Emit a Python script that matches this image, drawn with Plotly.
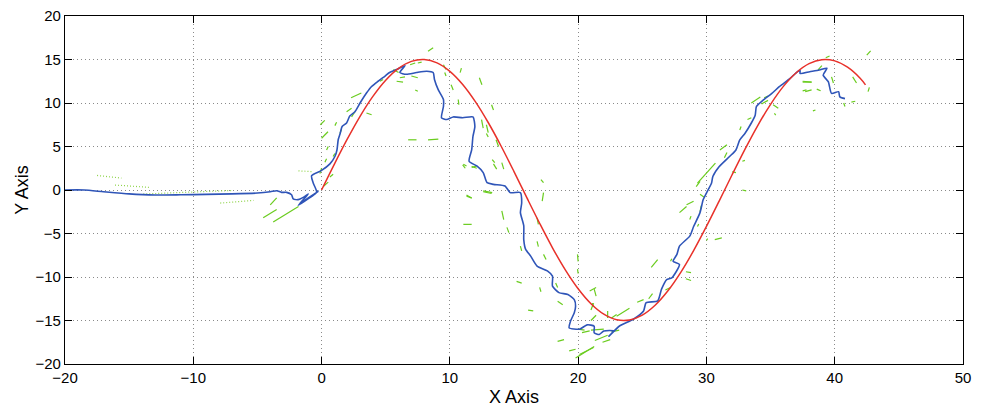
import plotly.graph_objects as go

# Red reference curve
red_x = [0, 1, 2, 3, 4, 5, 6, 7, 8, 9, 10, 11, 12, 13, 14, 15, 16, 17, 18, 19, 20,
         21, 22, 23, 24, 25, 26, 27, 28, 29, 30, 31, 32, 33, 34, 35, 36, 37, 38, 39,
         40, 41, 42, 42.4]
red_y = [0, 2.98, 5.84, 8.47, 10.76, 12.62, 13.98, 14.78, 14.99, 14.61, 13.64, 12.13,
         10.13, 7.73, 5.03, 2.12, -0.88, -3.83, -6.64, -9.18, -11.35, -13.07, -14.27,
         -14.91, -14.94, -14.38, -13.25, -11.59, -9.47, -6.97, -4.19, -1.25, 1.75, 4.67,
         7.41, 9.85, 11.91, 13.48, 14.52, 14.98, 14.84, 14.11, 12.82, 12.09]

# Blue estimated track
blue_x = [-20, -18.5, -17, -15, -13, -11, -9, -7, -5, -4, -3.5, -3.12, -2.73, -2.34, -2.21,
          -1.82, -1.43, -1.04, -1.82, -0.26, -1.69, -0.39, -0.65, -0.78, 0.0, 0.65, 1.04,
          1.2, 1.3, 1.45, 1.6, 1.95, 2.2, 2.6, 3.0, 3.5, 3.9, 4.4, 4.95, 5.3, 5.85, 6.5,
          6.1, 6.6, 7.4, 8.2, 8.7, 8.8, 9.1, 9.5, 9.5, 9.35, 9.75, 10.26, 11.0, 11.8,
          11.95, 11.8, 11.7, 11.5, 12.1, 12.6, 12.9, 13.4, 14.3, 14.7, 15.5, 15.6, 15.5,
          15.76, 15.76, 15.9, 16.3, 16.8, 17.6, 18.0, 18.0, 18.5, 19.2, 19.7, 19.8, 19.7,
          19.4, 19.3, 20.1, 20.7, 21.25, 21.25, 21.65, 22.0, 22.8, 22.4, 23.25, 24.3, 25.1,
          25.3, 26.2, 26.5, 26.9, 27.3, 27.9, 27.4, 27.7, 27.9, 28.7, 29.0, 29.5, 29.75,
          30.0, 30.4, 30.5, 31.0, 31.8, 32.3, 32.6, 33.0, 33.5, 33.8, 33.9, 34.4, 35.1,
          35.7, 36.5, 37.1, 37.3, 37.3, 38.05, 38.8, 39.4, 39.1, 39.5, 39.75, 40.3, 40.4,
          40.8]
blue_y = [0.0, 0.0, -0.2, -0.45, -0.58, -0.55, -0.5, -0.45, -0.35, -0.2, -0.08, -0.27,
          -0.27, -0.54, -1.03, -1.11, -0.85, -0.46, -1.76, -0.16, -1.57, -0.27, 0.8, 1.64,
          2.25, 3.0, 3.85, 4.6, 5.8, 6.5, 7.3, 7.7, 8.5, 9.0, 10.0, 11.15, 11.9, 12.5, 13.1,
          13.5, 13.85, 14.3, 13.5, 13.3, 13.5, 13.65, 13.5, 12.7, 11.5, 10.4, 9.6, 8.3, 8.1,
          8.4, 8.3, 8.4, 7.3, 6.15, 4.6, 3.3, 2.76, 2.0, 0.84, 0.65, 0.46, -0.3, -0.3, -1.46,
          -2.6, -4.1, -5.7, -6.8, -7.6, -8.75, -9.3, -9.9, -11.05, -11.8, -12.0, -12.6,
          -13.35, -14.1, -15.1, -15.85, -16.0, -15.5, -15.65, -16.4, -16.6, -16.2, -16.2,
          -16.8, -15.6, -14.85, -13.9, -12.95, -12.75, -11.4, -10.3, -10.1, -8.55, -8.2,
          -7.4, -6.45, -5.3, -4.2, -2.6, -1.1, -0.35, 0.8, 1.55, 2.7, 3.85, 4.6, 5.75, 6.5,
          7.7, 8.6, 9.6, 10.3, 11.1, 11.9, 12.8, 13.6, 13.75, 13.4, 13.6, 13.8, 14.0, 13.2,
          12.45, 11.1, 11.3, 10.7, 10.5]

# Green measurement fragments: (x0, y0, x1, y1)
green_seg_x0 = [-4.55, -3.77, -4.0, -0.1, 0.0, 8.3, 10.8, 12.3, 10.1, 10.65, 13.25, 9.5, 9.6,
                7.3, 5.85, 6.1, 7.0, 7.5, 6.9, 5.6, 4.55, 2.3, 1.95, 3.5, 2.34, 1.04, 1.43,
                0.39, 0.9, 0.26, -0.13, 0.65, 0.13, 6.75, 8.3, 12.47, 12.85, 12.85, 13.6,
                11.0, 11.7, 13.4, 11.3, 12.6, 11.05, 11.7, 13.3, 14.05, 17.1, 17.3, 11.3,
                12.6, 14.05, 14.45, 11.05, 15.5, 16.8, 16.8, 17.3, 15.2, 17.0, 18.25, 18.4,
                19.95, 19.95, 21.25, 21.1, 16.1, 18.4, 19.3, 19.8, 20.0, 21.0, 21.3, 22.6,
                21.0, 23.0, 20.3, 27.9, 28.7, 29.5, 30.65, 25.7, 27.2, 28.4, 28.4, 24.6, 25.5,
                26.8, 22.3, 20.9, 21.0, 20.1, 21.9, 22.6, 28.45, 29.3, 30.0, 29.2, 29.3,
                29.5, 31.05, 31.4, 32.0, 32.6, 32.8, 32.8, 33.2, 33.5, 34.5, 34.3, 35.2,
                35.3, 37.5, 37.5, 38.6, 37.5, 37.7, 38.3, 38.7, 39.3, 39.75, 40.7, 41.3,
                42.6, 41.4, 42.5]
green_seg_y0 = [-3.2, -3.67, -1.7, 7.5, 5.95, 15.96, 13.5, 12.9, 12.1, 10.4, 9.8, 14.4, 13.5,
                11.5, 12.5, 12.9, 13.1, 14.6, 14.4, 13.85, 12.5, 10.6, 9.0, 8.85, 8.4, 7.4,
                6.5, 4.6, 3.85, 3.2, 1.9, 1.5, 0.4, 5.77, 5.77, 8.1, 7.5, 6.5, 5.77, 2.9, 2.7,
                3.0, -0.58, -0.2, 2.95, 2.6, 3.5, 3.15, 1.2, -0.3, -0.7, -0.1, -2.4, -4.3,
                -3.95, -6.45, -3.2, -5.9, -7.4, -10.5, -11.2, -10.7, -12.8, -7.4, -9.1, -11.4,
                -13.0, -13.8, -17.4, -18.5, -19.3, -16.0, -16.1, -17.3, -14.7, -15.0, -14.5,
                -16.4, -2.6, -3.4, -2.5, -5.7, -8.9, -8.2, -9.4, -10.2, -12.9, -12.5, -11.5,
                -14.7, -11.6, -13.8, -18.9, -17.5, -16.3, -1.7, -4.2, -5.8, 0.4, 0.8, -0.5,
                4.6, 3.7, 2.1, 6.9, 0.0, 3.3, 8.1, 10.0, 10.6, 9.9, 9.8, 8.8, 12.4, 11.4, 11.6,
                12.5, 11.3, 9.1, 13.8, 15.2, 13.0, 10.0, 10.1, 11.3, 13.0, 15.5, 15.5, 13.8, 13.5]
green_seg_x1 = [-3.5, -1.8, -3.5, 0.25, 0.5, 8.7, 10.9, 12.5, 10.26, 10.7, 13.4, 9.7, 9.7,
                7.5, 6.35, 6.5, 7.5, 7.8, 7.3, 6.0, 4.8, 3.1, 2.34, 3.9, 2.6, 1.17, 1.56,
                0.52, 1.04, 0.39, 0.0, 0.9, 0.52, 7.4, 9.1, 12.6, 12.99, 12.99, 13.8, 11.2,
                12.1, 13.65, 11.7, 13.25, 11.3, 12.1, 13.5, 14.2, 17.3, 17.2, 11.7, 13.3,
                14.2, 14.6, 11.7, 15.6, 16.9, 16.9, 17.5, 15.6, 17.1, 18.4, 18.8, 20.0, 20.0,
                21.4, 21.2, 16.5, 18.9, 19.8, 21.25, 20.5, 22.0, 22.3, 23.0, 21.4, 24.0, 20.9,
                28.45, 28.8, 29.6, 31.2, 26.2, 27.3, 28.8, 28.8, 25.1, 25.8, 27.2, 22.3, 21.4,
                21.2, 21.2, 22.5, 23.2, 29.0, 29.4, 30.1, 29.5, 30.7, 29.8, 31.6, 31.6, 32.3,
                32.7, 33.1, 33.0, 33.5, 34.2, 34.8, 34.8, 35.6, 35.4, 38.2, 37.8, 38.9, 38.2,
                38.2, 38.5, 39.0, 39.6, 39.9, 40.8, 41.6, 42.7, 41.7, 42.8]
green_seg_y1 = [-2.25, -1.9, -0.9, 8.0, 6.7, 16.35, 14.0, 12.1, 11.5, 9.8, 9.2, 13.85, 13.1,
                11.35, 12.4, 13.0, 12.9, 14.7, 14.6, 13.5, 12.7, 11.15, 9.4, 8.65, 9.0, 7.8,
                7.0, 5.0, 4.2, 3.6, 2.5, 1.8, 0.9, 5.77, 5.85, 7.1, 6.6, 6.1, 5.0, 2.5, 2.5,
                2.4, -0.96, -0.4, 2.76, 2.76, 3.15, 2.4, 0.85, -1.27, -0.9, -0.3, -3.4, -4.9,
                -3.95, -7.0, -3.95, -6.5, -8.0, -10.7, -11.7, -11.2, -13.2, -8.2, -9.6, -12.2,
                -13.4, -13.9, -17.2, -18.3, -18.0, -16.1, -16.0, -16.7, -14.3, -14.4, -13.6,
                -16.2, -1.9, -3.0, -1.8, -5.5, -8.0, -7.9, -9.5, -10.4, -12.6, -11.9, -11.2,
                -13.9, -11.2, -13.0, -18.1, -17.2, -16.1, -1.3, -3.9, -5.6, 1.0, 3.1, -0.8,
                5.2, 4.3, 2.0, 7.3, -0.1, 3.4, 8.3, 10.7, 10.8, 10.3, 9.4, 8.6, 12.4, 11.5,
                11.4, 12.4, 11.5, 9.2, 14.3, 15.4, 12.3, 9.6, 10.2, 11.8, 12.3, 16.0, 15.3,
                14.5, 13.2]

# Dotted lighter green fragments on the left
dot_seg_x0 = [-17.5, -16.1, -13.9, -7.9, -1.8]
dot_seg_y0 = [1.67, 0.57, -0.46, -1.5, 2.2]
dot_seg_x1 = [-15.6, -13.4, -6.9, -5.3, -0.65]
dot_seg_y1 = [1.37, 0.3, -0.05, -1.2, 2.1]


def segs(x0, y0, x1, y1):
    xs, ys = [], []
    for a, b, c, d in zip(x0, y0, x1, y1):
        xs += [a, c, None]
        ys += [b, d, None]
    return xs, ys


gx, gy = segs(green_seg_x0, green_seg_y0, green_seg_x1, green_seg_y1)
dx, dy = segs(dot_seg_x0, dot_seg_y0, dot_seg_x1, dot_seg_y1)

fig = go.Figure()
fig.add_trace(go.Scatter(x=dx, y=dy, mode="lines",
                         line=dict(color="#8fd44a", width=1.2, dash="1px,2px"),
                         connectgaps=False, hoverinfo="skip"))
fig.add_trace(go.Scatter(x=gx, y=gy, mode="lines",
                         line=dict(color="#6acc1e", width=1.2),
                         connectgaps=False, hoverinfo="skip"))
fig.add_trace(go.Scatter(x=blue_x, y=blue_y, mode="lines",
                         line=dict(color="#2f55b8", width=1.6, shape="spline", smoothing=0.6)))
fig.add_trace(go.Scatter(x=red_x, y=red_y, mode="lines",
                         line=dict(color="#e8312a", width=1.5, shape="spline")))

axis_common = dict(
    showline=True, linecolor="black", linewidth=1.3, mirror="ticks",
    ticks="inside", ticklen=7, tickcolor="black", tickwidth=1,
    showgrid=True, gridcolor="#8a8a8a", griddash="1px,3px", gridwidth=1,
    zeroline=False, tickfont=dict(size=15, color="black"), automargin=False,
)

fig.update_layout(
    width=986, height=412,
    margin=dict(l=65, r=23, t=16, b=48),
    paper_bgcolor="white", plot_bgcolor="white",
    showlegend=False,
    font=dict(family="Liberation Sans, Arial, sans-serif", color="black"),
    xaxis=dict(range=[-20, 50], tickvals=[-20, -10, 0, 10, 20, 30, 40, 50],
               title=dict(text="X Axis", font=dict(size=18), standoff=5), **axis_common),
    yaxis=dict(range=[-20, 20], tickvals=[-20, -15, -10, -5, 0, 5, 10, 15, 20],
               title=dict(text="Y Axis", font=dict(size=18), standoff=2), **axis_common),
)

fig.write_html("out.html")
